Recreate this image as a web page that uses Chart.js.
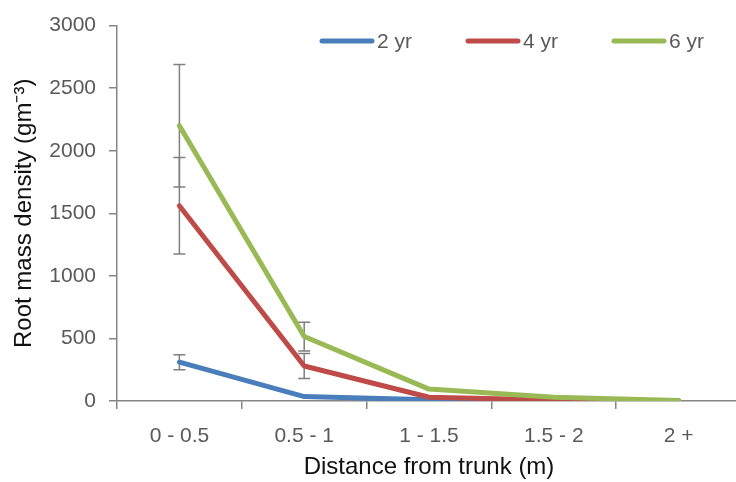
<!DOCTYPE html>
<html>
<head>
<meta charset="utf-8">
<script src="https://cdn.jsdelivr.net/npm/chart.js@4.4.1/dist/chart.umd.min.js"></script>
<style>
    html, body { margin: 0; padding: 0; overflow: hidden; background: #fff; }
    #wrap { width: 745px; height: 482px; }
</style>
</head>
<body>
<div id="wrap"><canvas id="rootChart"></canvas></div>
<script>
// Chart data
const categories = ['0 - 0.5', '0.5 - 1', '1 - 1.5', '1.5 - 2', '2 +'];
const seriesNames = ['2 yr', '4 yr', '6 yr'];
const yr2 = [310, 35, 10, 3, 1];
const yr4 = [1560, 280, 30, 8, 2];
const yr6 = [2200, 515, 95, 30, 5];
const yr2Err = [60, null, null, null, null];
const yr4Err = [385, 100, null, null, null];
const yr6Err = [490, 115, null, null, null];
const yMax = 3000;
const yStep = 500;

const colors = ['#4a7ebb', '#be4b48', '#98b954'];
const tickColor = '#595959';
const axisColor = '#868686';
const fontFamily = '"Liberation Sans", Arial, sans-serif';

// error bars, drawn under the lines
const errorBars = {
    id: 'errorBars',
    beforeDatasetsDraw(chart) {
        const ctx = chart.ctx;
        const y = chart.scales.y;
        ctx.save();
        ctx.strokeStyle = '#7f7f7f';
        ctx.lineWidth = 1.5;
        chart.data.datasets.forEach((ds, i) => {
            const meta = chart.getDatasetMeta(i);
            ds.errors.forEach((err, j) => {
                if (err == null) return;
                const x = meta.data[j].x;
                const top = y.getPixelForValue(ds.data[j] + err);
                const bot = y.getPixelForValue(ds.data[j] - err);
                ctx.beginPath();
                ctx.moveTo(x, top); ctx.lineTo(x, bot);
                ctx.moveTo(x - 6, top); ctx.lineTo(x + 6, top);
                ctx.moveTo(x - 6, bot); ctx.lineTo(x + 6, bot);
                ctx.stroke();
            });
        });
        ctx.restore();
    }
};

// legend inside the plot, top right
const innerLegend = {
    id: 'innerLegend',
    afterDraw(chart) {
        const ctx = chart.ctx;
        ctx.save();
        ctx.font = '21px ' + fontFamily;
        ctx.textBaseline = 'middle';
        seriesNames.forEach((name, i) => {
            const x = 320 + i * 146;
            const yPos = 41;
            ctx.strokeStyle = colors[i];
            ctx.lineWidth = 5;
            ctx.lineCap = 'round';
            ctx.beginPath();
            ctx.moveTo(x + 2, yPos); ctx.lineTo(x + 52, yPos);
            ctx.stroke();
            ctx.fillStyle = tickColor;
            ctx.fillText(name, x + 57, yPos + 1);
        });
        ctx.restore();
    }
};

function makeDataset(idx, values, errs) {
    return {
        label: seriesNames[idx],
        data: values,
        errors: errs,
        borderColor: colors[idx],
        backgroundColor: colors[idx],
        borderWidth: 5,
        borderJoinStyle: 'round',
        borderCapStyle: 'round',
        pointRadius: 0,
        tension: 0,
        order: 3 - idx
    };
}

new Chart(document.getElementById('rootChart'), {
    type: 'line',
    data: {
        labels: categories,
        datasets: [
            makeDataset(0, yr2, yr2Err),
            makeDataset(1, yr4, yr4Err),
            makeDataset(2, yr6, yr6Err)
        ]
    },
    options: {
        responsive: true,
        maintainAspectRatio: false,
        animation: false,
        layout: { padding: { top: 24, right: 4, left: 0, bottom: 0 } },
        plugins: {
            legend: { display: false },
            tooltip: { enabled: false }
        },
        scales: {
            x: {
                offset: true,
                grid: { display: true, drawOnChartArea: false, offset: true, tickLength: 8, color: axisColor, lineWidth: 1.5 },
                border: { display: true, color: axisColor, width: 1.5 },
                ticks: { color: tickColor, font: { family: fontFamily, size: 21 }, padding: 15, maxRotation: 0 },
                title: { display: true, text: 'Distance from trunk (m)', color: '#111', font: { family: fontFamily, size: 24 }, padding: { top: 0, bottom: 0 } },
                afterFit(scale) { scale.height = 81; }
            },
            y: {
                min: 0,
                max: yMax,
                grid: { display: true, drawOnChartArea: false, tickLength: 8, color: axisColor, lineWidth: 1.5 },
                border: { display: true, color: axisColor, width: 1.5 },
                ticks: {
                    stepSize: yStep, color: tickColor, font: { family: fontFamily, size: 21 }, padding: 13,
                    callback: (v) => String(v)
                },
                title: { display: true, text: 'Root mass density (gm⁻³)', color: '#111', font: { family: fontFamily, size: 24 }, padding: { top: 10, bottom: 0 } },
                afterFit(scale) { scale.width = 117; }
            }
        }
    },
    plugins: [errorBars, innerLegend]
});
</script>
</body>
</html>
